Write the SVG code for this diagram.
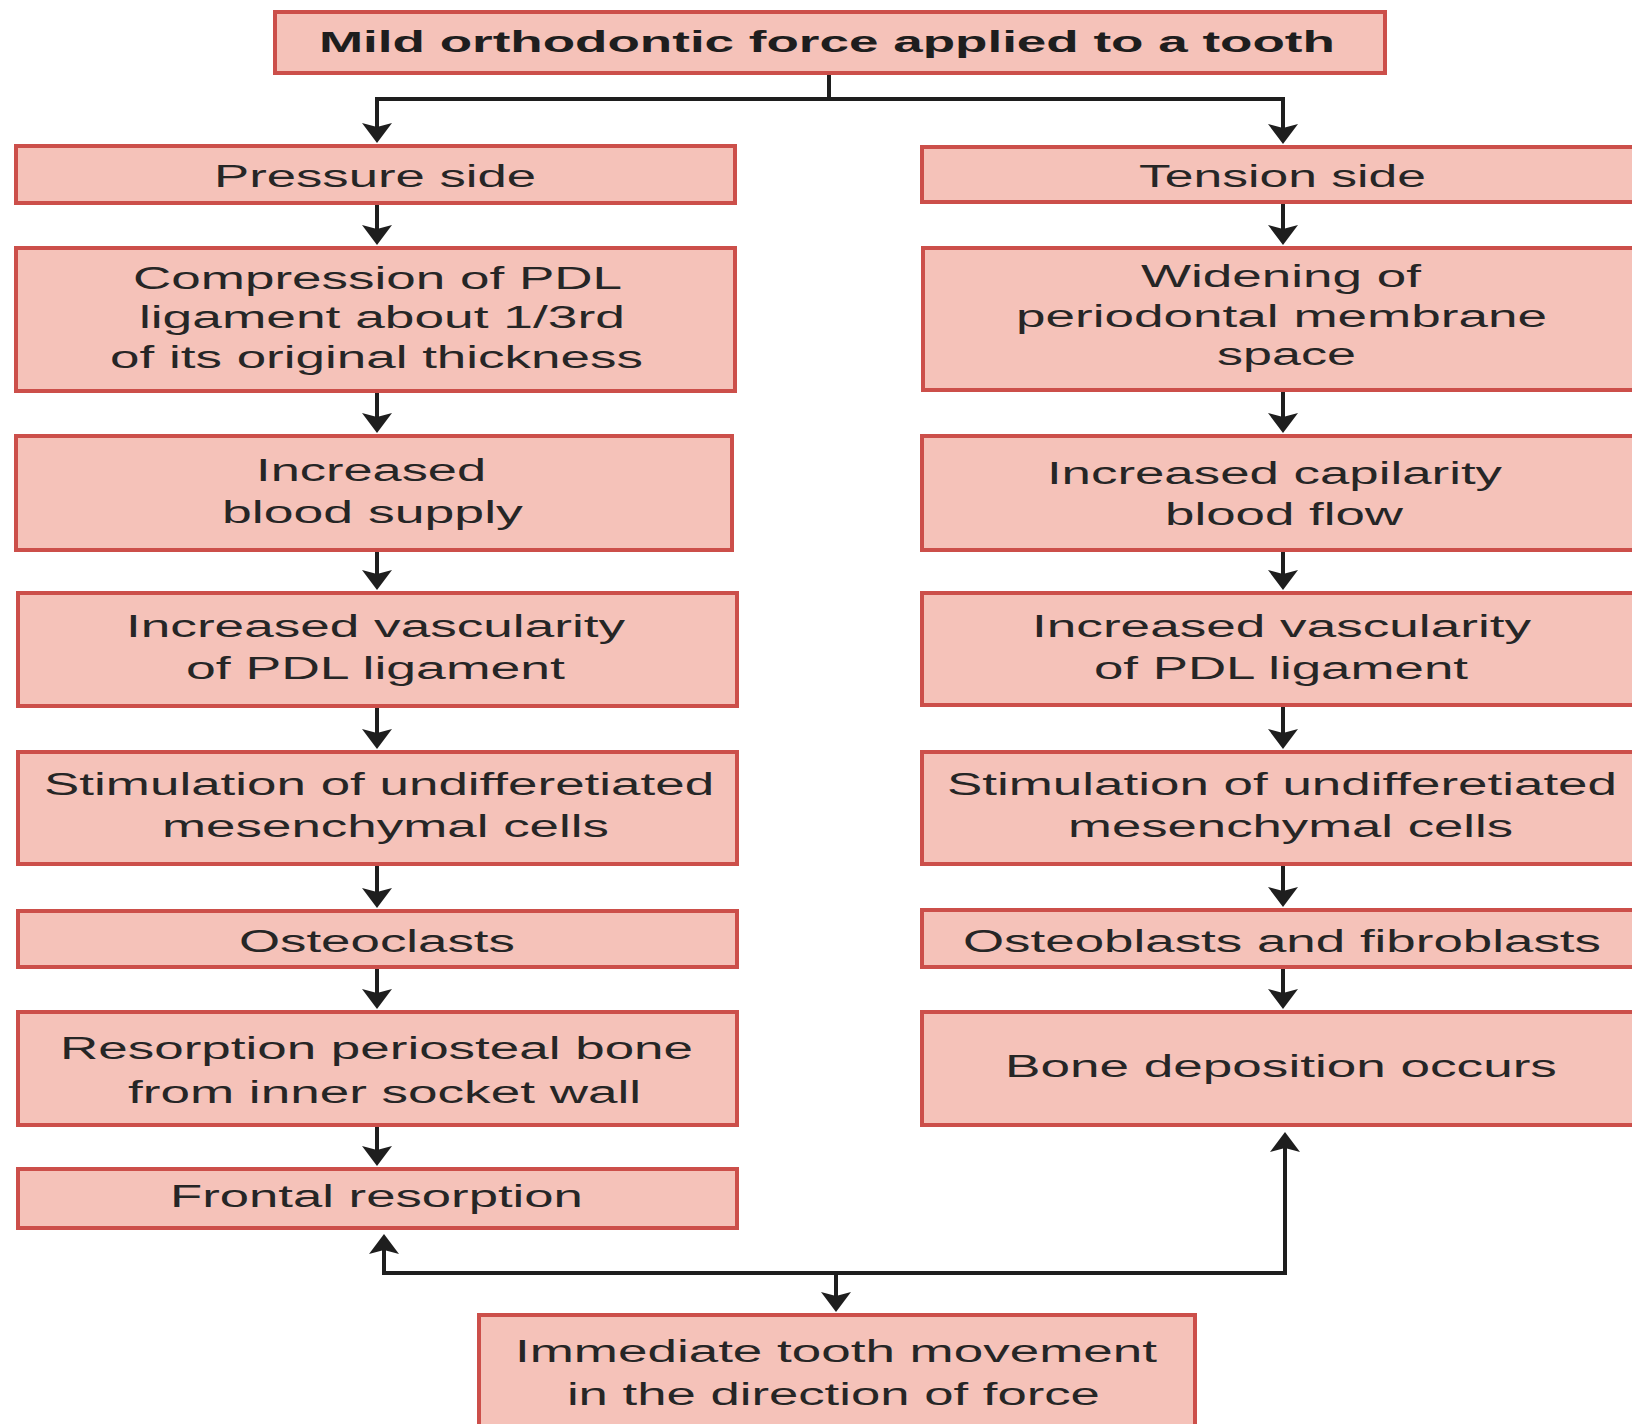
<svg xmlns="http://www.w3.org/2000/svg" width="1632" height="1424" viewBox="0 0 1632 1424">
<style>
.box{fill:#f5c2b9;stroke:#cc4f4a;stroke-width:4}
.t{font-family:"Liberation Sans",Arial,sans-serif;font-size:31px;fill:#262626}
.tb{font-family:"Liberation Sans",Arial,sans-serif;font-size:29px;font-weight:bold;fill:#1e1e1e}
.c{fill:none;stroke:#1e1e1e;stroke-width:4}
</style>
<defs>
<marker id="ah" markerUnits="userSpaceOnUse" markerWidth="20" markerHeight="30" viewBox="0 0 20 30" refX="14" refY="15" orient="auto">
<path d="M0,0 L20,15 L0,30 L4,15 Z" fill="#1e1e1e"/>
</marker>
</defs>
<rect width="1632" height="1424" fill="#ffffff"/>

<g id="connectors">
<polyline class="c" points="829,73 829,99"/>
<polyline class="c" points="377,99 1283,99"/>
<line class="c" x1="377" y1="97" x2="377" y2="137" marker-end="url(#ah)"/>
<line class="c" x1="1283" y1="97" x2="1283" y2="138" marker-end="url(#ah)"/>
<line class="c" x1="377" y1="205" x2="377" y2="239" marker-end="url(#ah)"/>
<line class="c" x1="1283" y1="204" x2="1283" y2="239" marker-end="url(#ah)"/>
<line class="c" x1="377" y1="393" x2="377" y2="427" marker-end="url(#ah)"/>
<line class="c" x1="1283" y1="392" x2="1283" y2="427" marker-end="url(#ah)"/>
<line class="c" x1="377" y1="552" x2="377" y2="584" marker-end="url(#ah)"/>
<line class="c" x1="1283" y1="552" x2="1283" y2="584" marker-end="url(#ah)"/>
<line class="c" x1="377" y1="708" x2="377" y2="743" marker-end="url(#ah)"/>
<line class="c" x1="1283" y1="707" x2="1283" y2="743" marker-end="url(#ah)"/>
<line class="c" x1="377" y1="866" x2="377" y2="902" marker-end="url(#ah)"/>
<line class="c" x1="1283" y1="866" x2="1283" y2="901" marker-end="url(#ah)"/>
<line class="c" x1="377" y1="969" x2="377" y2="1003" marker-end="url(#ah)"/>
<line class="c" x1="1283" y1="969" x2="1283" y2="1003" marker-end="url(#ah)"/>
<line class="c" x1="377" y1="1127" x2="377" y2="1160" marker-end="url(#ah)"/>
<polyline class="c" points="1285,1273 384,1273 384,1240" marker-end="url(#ah)"/>
<polyline class="c" points="1285,1275 1285,1138" marker-end="url(#ah)"/>
<line class="c" x1="836" y1="1273" x2="836" y2="1306" marker-end="url(#ah)"/>
</g>

<g id="n-top">
<rect class="box" x="275" y="12" width="1110" height="61"/>
<text class="tb" transform="scale(1.8,1)" x="177.2" y="52" textLength="564.4" lengthAdjust="spacingAndGlyphs">Mild orthodontic force applied to a tooth</text>
</g>

<g id="n-pressure">
<rect class="box" x="16" y="146" width="719" height="57"/>
<text class="t" transform="scale(1.65,1)" x="129.7" y="187" textLength="195.2" lengthAdjust="spacingAndGlyphs">Pressure side</text>
</g>
<g id="n-tension">
<rect class="box" x="922" y="147" width="720" height="55"/>
<text class="t" transform="scale(1.65,1)" x="690.3" y="187" textLength="173.9" lengthAdjust="spacingAndGlyphs">Tension side</text>
</g>

<g id="n-compression">
<rect class="box" x="16" y="248" width="719" height="143"/>
<text class="t" transform="scale(1.65,1)" x="80.6" y="289" textLength="296.4" lengthAdjust="spacingAndGlyphs">Compression of PDL</text>
<text class="t" transform="scale(1.65,1)" x="84.2" y="328" textLength="294.5" lengthAdjust="spacingAndGlyphs">ligament about 1/3rd</text>
<text class="t" transform="scale(1.65,1)" x="66.7" y="368" textLength="323" lengthAdjust="spacingAndGlyphs">of its original thickness</text>
</g>
<g id="n-widening">
<rect class="box" x="923" y="248" width="720" height="142"/>
<text class="t" transform="scale(1.65,1)" x="691.5" y="287" textLength="169.7" lengthAdjust="spacingAndGlyphs">Widening of</text>
<text class="t" transform="scale(1.65,1)" x="615.8" y="327" textLength="321.8" lengthAdjust="spacingAndGlyphs">periodontal membrane</text>
<text class="t" transform="scale(1.65,1)" x="737.6" y="365" textLength="84.2" lengthAdjust="spacingAndGlyphs">space</text>
</g>

<g id="n-blood-supply">
<rect class="box" x="16" y="436" width="716" height="114"/>
<text class="t" transform="scale(1.65,1)" x="155.2" y="481" textLength="139.4" lengthAdjust="spacingAndGlyphs">Increased</text>
<text class="t" transform="scale(1.65,1)" x="134.5" y="523" textLength="182.4" lengthAdjust="spacingAndGlyphs">blood supply</text>
</g>
<g id="n-capilarity">
<rect class="box" x="922" y="436" width="720" height="114"/>
<text class="t" transform="scale(1.65,1)" x="634.5" y="484" textLength="275.8" lengthAdjust="spacingAndGlyphs">Increased capilarity</text>
<text class="t" transform="scale(1.65,1)" x="706.1" y="525" textLength="144.2" lengthAdjust="spacingAndGlyphs">blood flow</text>
</g>

<g id="n-vasc-left">
<rect class="box" x="18" y="593" width="719" height="113"/>
<text class="t" transform="scale(1.65,1)" x="76.4" y="637" textLength="302.4" lengthAdjust="spacingAndGlyphs">Increased vascularity</text>
<text class="t" transform="scale(1.65,1)" x="112.7" y="679" textLength="229.7" lengthAdjust="spacingAndGlyphs">of PDL ligament</text>
</g>
<g id="n-vasc-right">
<rect class="box" x="922" y="593" width="720" height="112"/>
<text class="t" transform="scale(1.65,1)" x="625.5" y="637" textLength="302.4" lengthAdjust="spacingAndGlyphs">Increased vascularity</text>
<text class="t" transform="scale(1.65,1)" x="663" y="679" textLength="226.7" lengthAdjust="spacingAndGlyphs">of PDL ligament</text>
</g>

<g id="n-stim-left">
<rect class="box" x="18" y="752" width="719" height="112"/>
<text class="t" transform="scale(1.65,1)" x="26.7" y="795" textLength="406.1" lengthAdjust="spacingAndGlyphs">Stimulation of undifferetiated</text>
<text class="t" transform="scale(1.65,1)" x="98.2" y="837" textLength="270.9" lengthAdjust="spacingAndGlyphs">mesenchymal cells</text>
</g>
<g id="n-stim-right">
<rect class="box" x="922" y="752" width="720" height="112"/>
<text class="t" transform="scale(1.65,1)" x="573.9" y="795" textLength="406.1" lengthAdjust="spacingAndGlyphs">Stimulation of undifferetiated</text>
<text class="t" transform="scale(1.65,1)" x="647.3" y="837" textLength="269.7" lengthAdjust="spacingAndGlyphs">mesenchymal cells</text>
</g>

<g id="n-osteoclasts">
<rect class="box" x="18" y="911" width="719" height="56"/>
<text class="t" transform="scale(1.65,1)" x="144.8" y="952" textLength="167.3" lengthAdjust="spacingAndGlyphs">Osteoclasts</text>
</g>
<g id="n-osteoblasts">
<rect class="box" x="922" y="910" width="720" height="57"/>
<text class="t" transform="scale(1.65,1)" x="583.6" y="952" textLength="386.7" lengthAdjust="spacingAndGlyphs">Osteoblasts and fibroblasts</text>
</g>

<g id="n-resorption">
<rect class="box" x="18" y="1012" width="719" height="113"/>
<text class="t" transform="scale(1.65,1)" x="36.4" y="1059" textLength="383.6" lengthAdjust="spacingAndGlyphs">Resorption periosteal bone</text>
<text class="t" transform="scale(1.65,1)" x="77.6" y="1103" textLength="310.9" lengthAdjust="spacingAndGlyphs">from inner socket wall</text>
</g>
<g id="n-bone-deposition">
<rect class="box" x="922" y="1012" width="720" height="113"/>
<text class="t" transform="scale(1.65,1)" x="609.1" y="1077" textLength="334.5" lengthAdjust="spacingAndGlyphs">Bone deposition occurs</text>
</g>

<g id="n-frontal">
<rect class="box" x="18" y="1169" width="719" height="59"/>
<text class="t" transform="scale(1.65,1)" x="103" y="1207" textLength="250.3" lengthAdjust="spacingAndGlyphs">Frontal resorption</text>
</g>

<g id="n-movement">
<rect class="box" x="479" y="1315" width="716" height="130"/>
<text class="t" transform="scale(1.65,1)" x="312.1" y="1362" textLength="389.1" lengthAdjust="spacingAndGlyphs">Immediate tooth movement</text>
<text class="t" transform="scale(1.65,1)" x="343.6" y="1405" textLength="323" lengthAdjust="spacingAndGlyphs">in the direction of force</text>
</g>
</svg>
